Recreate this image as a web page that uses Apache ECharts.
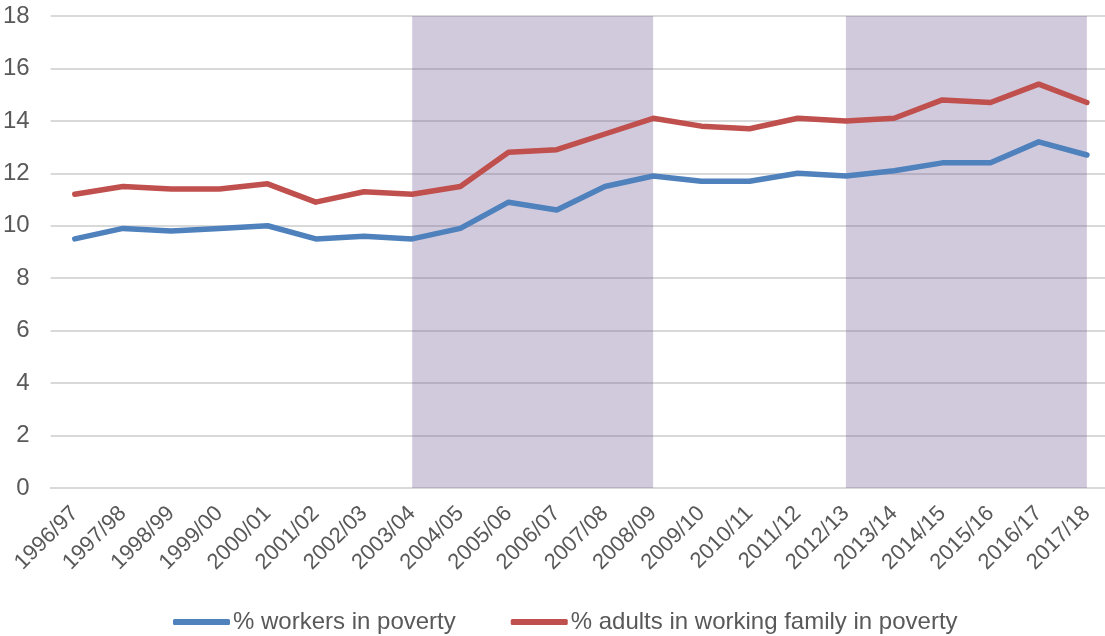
<!DOCTYPE html>
<html>
<head>
<meta charset="utf-8">
<script src="https://cdn.jsdelivr.net/npm/echarts@6/dist/echarts.min.js"></script>
<style>
  html, body { margin: 0; padding: 0; background: #fff; overflow: hidden; }
  /* plot area runs a few pixels past the right edge of the window */
  #chart { width: 1111px; height: 636px; }
</style>
</head>
<body>
<div id="chart"></div>
<script>
// Financial years on the horizontal axis
const years = ['1996/97','1997/98','1998/99','1999/00','2000/01','2001/02','2002/03','2003/04',
  '2004/05','2005/06','2006/07','2007/08','2008/09','2009/10','2010/11','2011/12','2012/13',
  '2013/14','2014/15','2015/16','2016/17','2017/18'];

// Percentage of workers in poverty
const workersInPoverty = [9.5, 9.9, 9.8, 9.9, 10.0, 9.5, 9.6, 9.5, 9.9, 10.9, 10.6, 11.5,
  11.9, 11.7, 11.7, 12.0, 11.9, 12.1, 12.4, 12.4, 13.2, 12.7];

// Percentage of adults in a working family in poverty
const adultsInWorkingFamily = [11.2, 11.5, 11.4, 11.4, 11.6, 10.9, 11.3, 11.2, 11.5, 12.8, 12.9,
  13.5, 14.1, 13.8, 13.7, 14.1, 14.0, 14.1, 14.8, 14.7, 15.4, 14.7];

// Shaded periods (start year, end year)
const shadedPeriods = [['2003/04', '2008/09'], ['2012/13', '2017/18']];

const seriesNames = ['% workers in poverty', '% adults in working family in poverty'];

const chart = echarts.init(document.getElementById('chart'));
const font = 'Liberation Sans, Arial, sans-serif';

chart.setOption({
  animation: false,
  grid: { left: 50, right: 0, top: 16, height: 472, containLabel: false },
  legend: {
    data: seriesNames,
    top: 605,
    left: 168,
    icon: 'roundRect',
    itemWidth: 57,
    itemHeight: 6,
    itemGap: 55,
    textStyle: { fontFamily: font, fontSize: 24, color: '#595959', padding: [0, 0, 0, -2] }
  },
  xAxis: {
    type: 'category',
    data: years,
    boundaryGap: true,
    axisLine: { lineStyle: { color: '#d9d9d9', width: 2 } },
    axisTick: { show: false },
    axisLabel: {
      rotate: 45, interval: 0, margin: 22,
      fontFamily: font, fontSize: 22, color: '#595959'
    }
  },
  yAxis: {
    type: 'value',
    min: 0, max: 18, interval: 2,
    axisLine: { show: false },
    axisTick: { show: false },
    splitLine: { lineStyle: { color: '#d9d9d9', width: 2 } },
    axisLabel: { margin: 21, fontFamily: font, fontSize: 24, color: '#595959' }
  },
  series: [
    {
      name: seriesNames[0], type: 'line', data: workersInPoverty,
      symbol: 'none', lineStyle: { color: '#4f81bd', width: 5.5, cap: 'round', join: 'round' },
      itemStyle: { color: '#4f81bd' }, z: 2
    },
    {
      name: seriesNames[1], type: 'line', data: adultsInWorkingFamily,
      symbol: 'none', lineStyle: { color: '#c0504d', width: 5.5, cap: 'round', join: 'round' },
      itemStyle: { color: '#c0504d' }, z: 2
    },
    {
      name: 'shade', type: 'line', data: [], z: 5, silent: true,
      markArea: {
        silent: true,
        itemStyle: { color: 'rgba(112, 90, 150, 0.32)' },
        data: shadedPeriods.map(p => [{ xAxis: p[0] }, { xAxis: p[1] }])
      }
    }
  ]
});
</script>
</body>
</html>
